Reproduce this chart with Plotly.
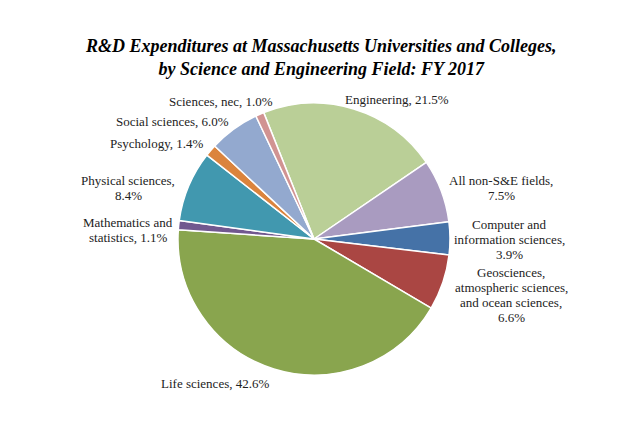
import plotly.graph_objects as go

# ---- data ----
categories = [
    "Engineering",
    "All non-S&E fields",
    "Computer and information sciences",
    "Geosciences, atmospheric sciences, and ocean sciences",
    "Life sciences",
    "Mathematics and statistics",
    "Physical sciences",
    "Psychology",
    "Social sciences",
    "Sciences, nec",
]
shares = [21.5, 7.5, 3.9, 6.6, 42.6, 1.1, 8.4, 1.4, 6.0, 1.0]

# label text as wrapped in the reference
label_text = [
    "Engineering, {v}",
    "All non-S&E fields,<br>{v}",
    "Computer and<br>information sciences,<br>{v}",
    "Geosciences,<br>atmospheric sciences,<br>and ocean sciences,<br>{v}",
    "Life sciences, {v}",
    "Mathematics and<br>statistics, {v}",
    "Physical sciences,<br>{v}",
    "Psychology, {v}",
    "Social sciences, {v}",
    "Sciences, nec, {v}",
]

title_text = ("R&D Expenditures at Massachusetts Universities and Colleges,"
              "<br>by Science and Engineering Field: FY 2017")

# ---- styles ----
colors = ["#BACF97", "#A99BC0", "#4572A7", "#AA4643", "#89A54E",
          "#71588F", "#4198AF", "#DB843D", "#93A9CF", "#D19392"]
# label anchor positions in pixels (x, y center of text block)
label_pos = [
    (397, 100), (501, 188), (509, 239), (511, 295), (215, 383),
    (128, 230), (128, 188), (157, 143), (172, 122), (221, 101),
]
LINE_H = 15  # label line spacing, px

W, H = 629, 434
OFF = 8  # page body margin offset
FONT = "Liberation Serif"


def px2paper(px, py):
    return (px - OFF) / W, 1 - (py - OFF) / H


x0, y1 = px2paper(178, 103)
x1, y0 = px2paper(450, 375)

fig = go.Figure(go.Pie(
    labels=categories,
    values=shares,
    sort=False,
    direction="clockwise",
    rotation=-21.7,
    marker=dict(colors=colors, line=dict(color="white", width=1.5)),
    textinfo="none",
    hoverinfo="label+percent",
    showlegend=False,
    domain=dict(x=[x0, x1], y=[y0, y1]),
))

for txt, v, (px, py) in zip(label_text, shares, label_pos):
    lines = txt.format(v=f"{v:.1f}%").split("<br>")
    n = len(lines)
    for i, line in enumerate(lines):
        ax, ay = px2paper(px, py + (i - (n - 1) / 2) * LINE_H)
        fig.add_annotation(
            x=ax, y=ay, xref="paper", yref="paper",
            text=line,
            showarrow=False, align="center",
            xanchor="center", yanchor="middle",
            font=dict(family=FONT, size=13, color="#222222"),
        )

tx, ty = px2paper(321, 57)
fig.add_annotation(
    x=tx, y=ty, xref="paper", yref="paper",
    text="<b><i>" + title_text + "</i></b>",
    showarrow=False, align="center", xanchor="center", yanchor="middle",
    font=dict(family=FONT, size=18, color="black"),
)

fig.update_layout(
    width=W, height=H,
    margin=dict(l=0, r=0, t=0, b=0),
    paper_bgcolor="white", plot_bgcolor="white",
)

fig.write_html("out.html")
